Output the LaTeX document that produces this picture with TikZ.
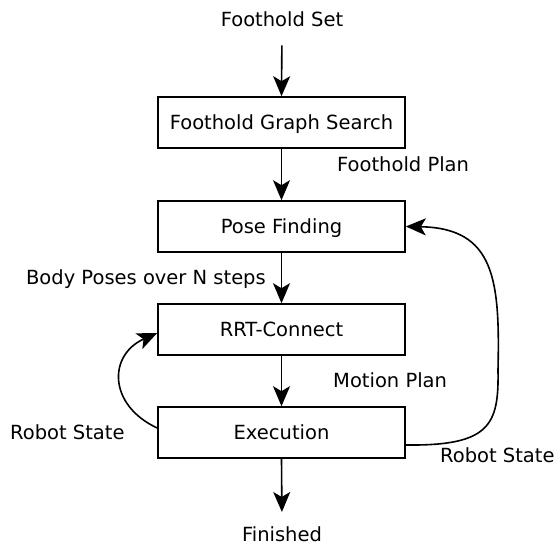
\documentclass[tikz,border=0pt]{standalone}
\usepackage{fontspec}
\setmainfont{DejaVu Sans}
\usetikzlibrary{arrows.meta}
\begin{document}
\begin{tikzpicture}[x=1pt,y=-1pt,
  every node/.style={font=\fontsize{19.5pt}{23pt}\selectfont, inner sep=0pt},
  stage/.style={draw, line width=1.6pt, minimum width=247pt, minimum height=51pt,
    text height=18.3pt, text depth=4pt},
  lbl/.style={},
  arr/.style={line width=1.6pt, -{Stealth[length=20pt,width=17pt,inset=5pt]}}]
\useasboundingbox (0,0) rectangle (557,545);

% processing stages
\node[stage] (b1) at (281.5,122.5) {Foothold Graph Search};
\node[stage] (b2) at (281.5,226.5) {Pose Finding};
\node[stage] (b3) at (281.5,329.5) {RRT-Connect};
\node[stage] (b4) at (281.5,432.5) {Execution};

% input / output
\node[lbl, anchor=base] (in)  at (282,27)  {Foothold Set};
\node[lbl, anchor=base] (out) at (282,541) {Finished};

% edge labels
\node[lbl, anchor=base west] (l1) at (337,172) {Foothold Plan};
\node[lbl, anchor=base east] (l2) at (266,285) {Body Poses over N steps};
\node[lbl, anchor=base west] (l3) at (333,388) {Motion Plan};
\node[lbl, anchor=base west] (l4) at (10,439)  {Robot State};
\node[lbl, anchor=base west] (l5) at (440,462) {Robot State};

% main flow
\draw[arr, shorten <=18pt] (in.south) -- (b1.north);
\draw[arr] (b1.south) -- (b2.north);
\draw[arr] (b2.south) -- (b3.north);
\draw[arr] (b3.south) -- (b4.north);
\draw[arr, shorten >=14pt] (b4.south) -- (out.north);

% feedback loops
\draw[arr] ([yshift=4.5pt]b4.west) .. controls (108,405) and (108,355) .. ([yshift=-3.5pt]b3.west);
\draw[arr] ([yshift=-12.5pt]b4.east) .. controls (490,446) and (499,425) .. (498,370)
  .. controls (500,280) and (495,228) .. (b2.east);
\end{tikzpicture}
\end{document}
